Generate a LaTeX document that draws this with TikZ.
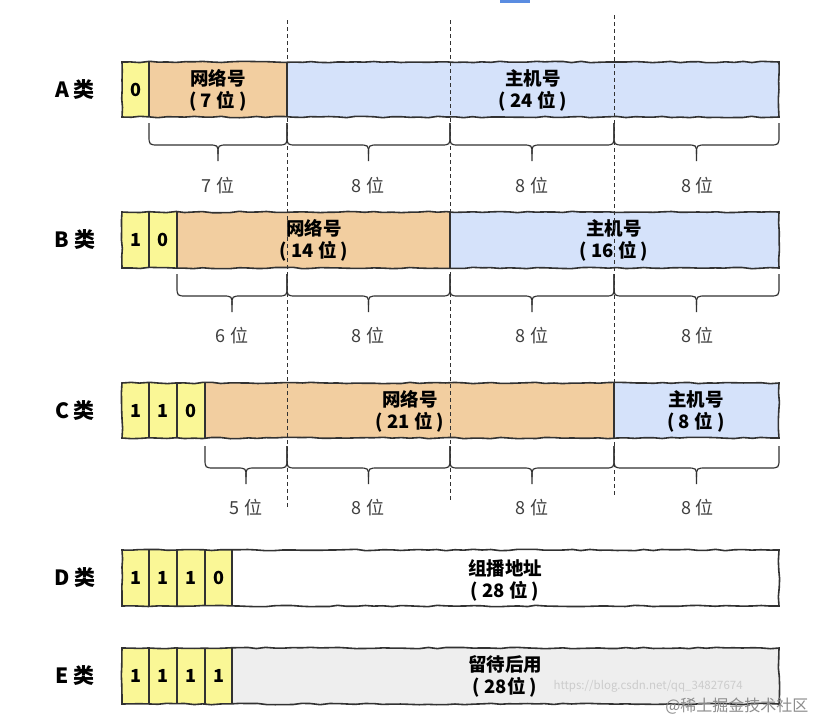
\documentclass[tikz,border=0pt]{standalone}
\usepackage{fontspec}
\setmainfont{Noto Sans CJK SC}
\usetikzlibrary{decorations.pathmorphing}
\definecolor{cyel}{RGB}{250,247,150}
\definecolor{corg}{RGB}{242,206,160}
\definecolor{cblu}{RGB}{213,226,250}
\definecolor{cgry}{RGB}{238,238,238}
\definecolor{cline}{RGB}{50,50,50}
\definecolor{cmark}{RGB}{90,140,225}
\tikzset{
 sketch/.style={draw=cline, line width=1.6pt, decorate, decoration={random steps, segment length=9pt, amplitude=0.7pt}},
 sep/.style={draw=cline, line width=1.5pt},
 guide/.style={draw=cline, line width=0.9pt, dash pattern=on 4pt off 3pt},
 brc/.style={draw=cline, line width=1.2pt},
 bitlbl/.style={font=\fontsize{18}{18}\selectfont, text=black!75},
 celltxt/.style={font=\bfseries\fontsize{18}{18}\selectfont},
 fieldtxt/.style={font=\bfseries\fontsize{18.5}{22}\selectfont, align=center},
 rowlbl/.style={font=\bfseries\fontsize{21}{21}\selectfont},
 wm/.style={font=\fontsize{11.5}{11.5}\selectfont, text=black!20},
 wmb/.style={font=\fontsize{16}{16}\selectfont, text=black!45},
}
\newcommand\bitbrace[3]{%
 \pgfmathsetmacro\bbmid{(#1+#2)/2}%
 \draw[brc] (#1,#3) -- (#1,#3+12) .. controls (#1,#3+22) .. (#1+10,#3+22) -- (\bbmid-10,#3+22) .. controls (\bbmid,#3+22) .. (\bbmid,#3+31) -- (\bbmid,#3+38);
 \draw[brc] (#2,#3) -- (#2,#3+12) .. controls (#2,#3+22) .. (#2-10,#3+22) -- (\bbmid+10,#3+22) .. controls (\bbmid,#3+22) .. (\bbmid,#3+31);
}
\begin{document}
\begin{tikzpicture}[x=1pt,y=-1pt]
\useasboundingbox[fill=white] (0,0) rectangle (818,721);
\fill[cmark] (500,0) rectangle (530,3);

% ---------- Row A ----------
\fill[cyel] (122,62) rectangle (149,117);
\fill[corg] (149,62) rectangle (287,117);
\fill[cblu] (287,62) rectangle (779,117);
\draw[sep] (149,62) -- (149,117);
\draw[sep] (287,62) -- (287,117);
\draw[sketch] (122,62) rectangle (779,117);
\node[rowlbl] (ra) at (75,90) {A 类};
\node[celltxt] (a0) at (135.5,90) {0};
\node[fieldtxt] (anet) at (218,90) {网络号\\( 7 位 )};
\node[fieldtxt] (ahost) at (533,90) {主机号\\( 24 位 )};
\bitbrace{149}{287}{123}
\bitbrace{287}{450}{123}
\bitbrace{450}{614}{123}
\bitbrace{614}{779}{123}
\node[bitlbl] (la1) at (218,186) {7 位};
\node[bitlbl] (la2) at (368,186) {8 位};
\node[bitlbl] (la3) at (532,186) {8 位};
\node[bitlbl] (la4) at (697,186) {8 位};

% ---------- Row B ----------
\fill[cyel] (122,212) rectangle (177,268);
\fill[corg] (177,212) rectangle (450,268);
\fill[cblu] (450,212) rectangle (779,268);
\draw[sep] (149,212) -- (149,268);
\draw[sep] (177,212) -- (177,268);
\draw[sep] (450,212) -- (450,268);
\draw[sketch] (122,212) rectangle (779,268);
\node[rowlbl] (rb) at (75,240) {B 类};
\node[celltxt] (b0) at (135.5,240) {1};
\node[celltxt] (b1) at (163,240) {0};
\node[fieldtxt] (bnet) at (314,240) {网络号\\( 14 位 )};
\node[fieldtxt] (bhost) at (614,240) {主机号\\( 16 位 )};
\bitbrace{177}{287}{274}
\bitbrace{287}{450}{274}
\bitbrace{450}{614}{274}
\bitbrace{614}{779}{274}
\node[bitlbl] (lb1) at (232,336) {6 位};
\node[bitlbl] (lb2) at (368,336) {8 位};
\node[bitlbl] (lb3) at (532,336) {8 位};
\node[bitlbl] (lb4) at (697,336) {8 位};

% ---------- Row C ----------
\fill[cyel] (122,383) rectangle (205,438);
\fill[corg] (205,383) rectangle (614,438);
\fill[cblu] (614,383) rectangle (779,438);
\draw[sep] (149,383) -- (149,438);
\draw[sep] (177,383) -- (177,438);
\draw[sep] (205,383) -- (205,438);
\draw[sep] (614,383) -- (614,438);
\draw[sketch] (122,383) rectangle (779,438);
\node[rowlbl] (rc) at (75,411) {C 类};
\node[celltxt] (c0) at (135.5,411) {1};
\node[celltxt] (c1) at (163,411) {1};
\node[celltxt] (c2) at (191,411) {0};
\node[fieldtxt] (cnet) at (410,411) {网络号\\( 21 位 )};
\node[fieldtxt] (chost) at (696,411) {主机号\\( 8 位 )};
\bitbrace{205}{287}{446}
\bitbrace{287}{450}{446}
\bitbrace{450}{614}{446}
\bitbrace{614}{779}{446}
\node[bitlbl] (lc1) at (246,508) {5 位};
\node[bitlbl] (lc2) at (368,508) {8 位};
\node[bitlbl] (lc3) at (532,508) {8 位};
\node[bitlbl] (lc4) at (697,508) {8 位};

% ---------- Row D ----------
\fill[cyel] (122,550) rectangle (232,606);
\fill[white] (232,550) rectangle (779,606);
\draw[sep] (149,550) -- (149,606);
\draw[sep] (177,550) -- (177,606);
\draw[sep] (205,550) -- (205,606);
\draw[sep] (232,550) -- (232,606);
\draw[sketch] (122,550) rectangle (779,606);
\node[rowlbl] (rd) at (75,578) {D 类};
\node[celltxt] (d0) at (135.5,578) {1};
\node[celltxt] (d1) at (163,578) {1};
\node[celltxt] (d2) at (191,578) {1};
\node[celltxt] (d3) at (218.5,578) {0};
\node[fieldtxt] (dmc) at (505,580) {组播地址\\( 28 位 )};

% ---------- Row E ----------
\fill[cyel] (122,648) rectangle (232,704);
\fill[cgry] (232,648) rectangle (779,704);
\draw[sep] (149,648) -- (149,704);
\draw[sep] (177,648) -- (177,704);
\draw[sep] (205,648) -- (205,704);
\draw[sep] (232,648) -- (232,704);
\draw[sketch] (122,648) rectangle (779,704);
\node[rowlbl] (re) at (75,676) {E 类};
\node[celltxt] (e0) at (135.5,676) {1};
\node[celltxt] (e1) at (163,676) {1};
\node[celltxt] (e2) at (191,676) {1};
\node[celltxt] (e3) at (218.5,676) {1};
\node[fieldtxt] (ers) at (505,676) {留待后用\\( 28位 )};

% ---------- guides ----------
\draw[guide] (287,20) -- (287,507);
\draw[guide] (450,20) -- (450,500);
\draw[guide] (614,15) -- (614,495);

% ---------- watermarks ----------
\node[wm, anchor=west] (wm1) at (550,686) {https://blog.csdn.net/qq\_34827674};
\node[wmb, anchor=east] (wm2) at (812,706) {@稀土掘金技术社区};
\end{tikzpicture}
\end{document}
